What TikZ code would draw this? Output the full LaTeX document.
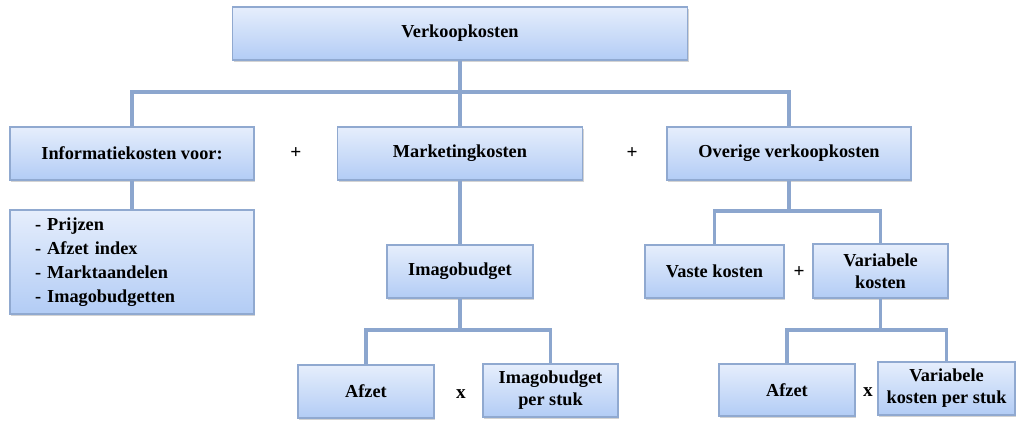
\documentclass[tikz,border=0pt]{standalone}
\usepackage{fontspec}
\setmainfont{Liberation Serif}
\usetikzlibrary{shadows}

\definecolor{boxtop}{HTML}{E6EEFC}
\definecolor{boxbottom}{HTML}{B2CCF5}
\definecolor{boxline}{HTML}{90A9D0}
\definecolor{linkline}{HTML}{8CA6CE}

\begin{document}
\begin{tikzpicture}[
    scale=1.0,
    costbox/.style={draw=boxline, line width=0.7pt, top color=boxtop, bottom color=boxbottom,
      minimum height=1.06cm, inner sep=2pt, font=\fontsize{10.4}{12.6}\selectfont\bfseries, align=center,
      drop shadow={shadow xshift=0.6pt, shadow yshift=-1.4pt, opacity=0.35}},
    link/.style={draw=linkline, line width=2.2pt},
    sign/.style={font=\fontsize{11}{13}\selectfont\bfseries}
]
  \useasboundingbox (0, 0) rectangle (20.44, 8.42);
  % --- top level and the three kinds of costs ---------------------------
  \node[costbox, minimum width=9.10cm] (total) at (9.20, 7.75) {Verkoopkosten};
  \node[costbox, minimum width=4.88cm] (info) at (2.64, 5.35) {Informatiekosten voor:};
  \node[costbox, minimum width=4.90cm] (marketing) at (9.20, 5.35) {Marketingkosten};
  \node[costbox, minimum width=4.88cm] (overig) at (15.78, 5.35) {Overige verkoopkosten};
  \node[sign] (plusa) at (5.92, 5.36) {+};
  \node[sign] (plusb) at (12.64, 5.36) {+};
  \coordinate (busa) at (9.20, 6.58);
  \draw[link] (total.south) -- (marketing.north);
  \draw[link] (info.north) |- (busa) -| (overig.north);
  % --- what the information is about -------------------------------------
  \node[costbox, minimum width=4.88cm, minimum height=2.08cm, align=left,
    text width=3.88cm] (topics) at (2.64, 3.18)
    {- Prijzen\\[1pt]- Afzet index\\[1pt]- Marktaandelen\\[1pt]- Imagobudgetten};
  \draw[link] (info.south) -- (topics.north);
  % --- marketing: the image budget ---------------------------------------
  \node[costbox, minimum width=2.92cm] (imago) at (9.20, 2.99) {Imagobudget};
  \node[costbox, minimum width=2.72cm] (afzeta) at (7.32, 0.59) {Afzet};
  \node[costbox, minimum width=2.70cm] (imagostuk) at (11.01, 0.61) {Imagobudget\\per stuk};
  \node[sign] (timesa) at (9.22, 0.54) {x};
  \coordinate (busb) at (9.20, 1.82);
  \draw[link] (marketing.south) -- (imago.north);
  \draw[link] (imago.south) -- (busb);
  \draw[link] (afzeta.north) |- (busb) -| (imagostuk.north);
  % --- other costs: fixed and variable -----------------------------------
  \node[costbox, minimum width=2.78cm] (vast) at (14.29, 2.99) {Vaste kosten};
  \node[costbox, minimum width=2.70cm, minimum height=1.08cm] (variabel) at (17.61, 3.00) {Variabele\\kosten};
  \node[sign] (plusc) at (15.98, 2.98) {+};
  \coordinate (busc) at (15.78, 4.20);
  \draw[link] (overig.south) -- (busc);
  \draw[link] (vast.north) |- (busc) -| (variabel.north);
  \node[costbox, minimum width=2.72cm, minimum height=1.04cm] (afzetb) at (15.74, 0.62) {Afzet};
  \node[costbox, minimum width=2.74cm] (varstuk) at (18.93, 0.65) {Variabele\\kosten per stuk};
  \node[sign] (timesb) at (17.36, 0.58) {x};
  \coordinate (busd) at (17.61, 1.82);
  \draw[link] (variabel.south) -- (busd);
  \draw[link] (afzetb.north) |- (busd) -| (varstuk.north);
\end{tikzpicture}
\end{document}
